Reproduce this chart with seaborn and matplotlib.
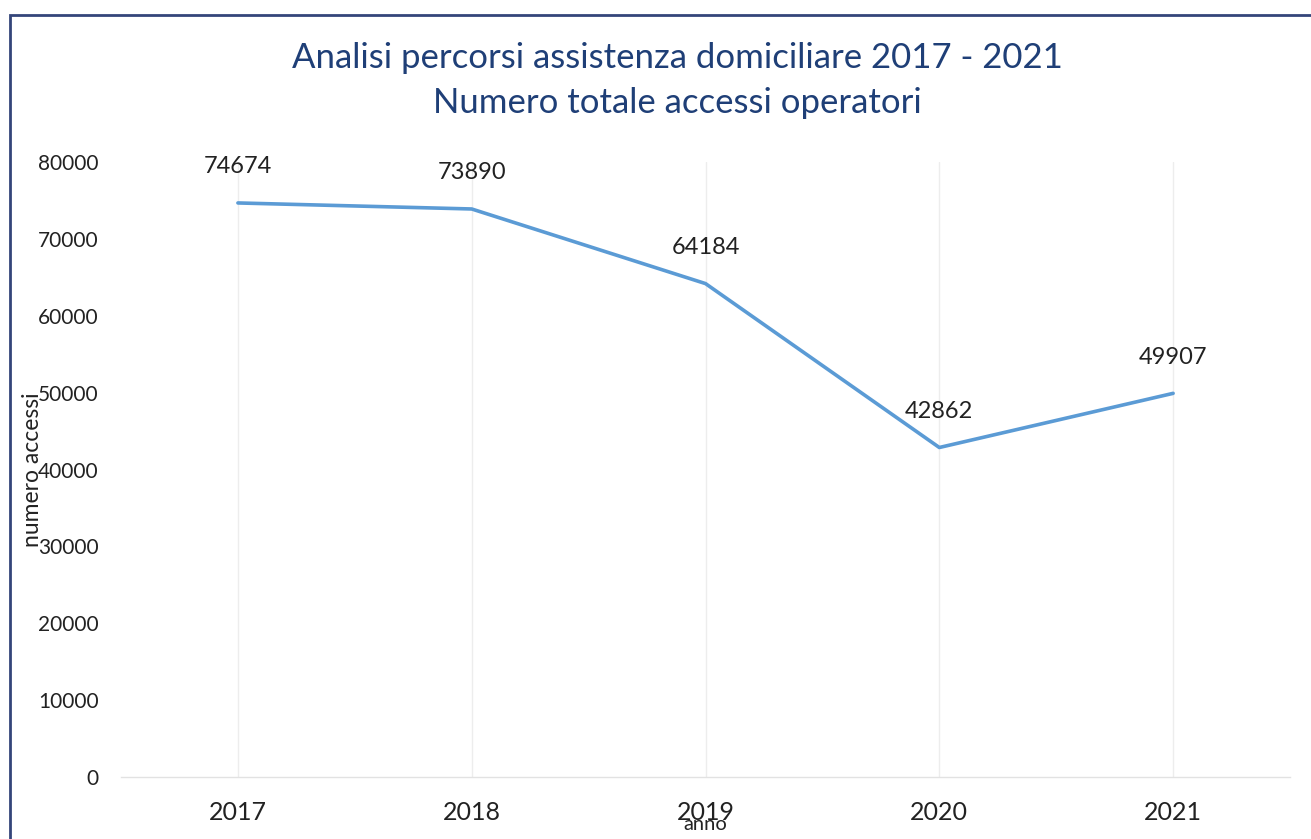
import matplotlib
matplotlib.use("Agg")
import matplotlib.pyplot as plt
import seaborn as sns
import pandas as pd
from matplotlib.patches import Rectangle

# Chart data
years = ["2017", "2018", "2019", "2020", "2021"]
accessi = [74674, 73890, 64184, 42862, 49907]
y_ticks = [0, 10000, 20000, 30000, 40000, 50000, 60000, 70000, 80000]

title_lines = ["Analisi percorsi assistenza domiciliare 2017 - 2021",
               "Numero totale accessi operatori"]

sns.set_theme(style="white")
plt.rcParams["font.family"] = ["Lato", "DejaVu Sans"]

df = pd.DataFrame({"anno": years, "numero accessi": accessi})

fig = plt.figure(figsize=(13.11, 8.39), dpi=100)
fig.patch.set_facecolor("white")
ax = fig.add_axes([0.0923, 0.0739, 0.8917, 0.733])

# vertical category gridlines
for i in range(len(years)):
    ax.axvline(i, color="#ededed", lw=1, zorder=0)

sns.lineplot(data=df, x="anno", y="numero accessi", ax=ax,
             color="#5B9BD5", linewidth=2.6, sort=False)

for i, v in enumerate(accessi):
    ax.annotate(str(v), (i, v), xytext=(0, 26), textcoords="offset points",
                ha="center", va="center", fontsize=17, color="#222222")

ax.set_xlim(-0.5, len(years) - 0.5)
ax.set_ylim(0, 80000)
ax.set_yticks(y_ticks)
ax.set_yticklabels([str(t) for t in y_ticks])

for s in ["top", "right", "left"]:
    ax.spines[s].set_visible(False)
ax.spines["bottom"].set_color("#e2e2e2")
ax.spines["bottom"].set_linewidth(1)

ax.tick_params(axis="y", length=0, pad=16, labelsize=15, labelcolor="#222222")
ax.tick_params(axis="x", length=0, pad=17, labelsize=18, labelcolor="#222222")

ax.set_xlabel("anno", fontsize=14.5, color="#222222")
ax.set_ylabel("numero accessi", fontsize=16.5, color="#222222")
ax.xaxis.set_label_coords(0.5, -0.064)
ax.yaxis.set_label_coords(-0.067, 0.5)

fig.text(0.517, 0.931, title_lines[0], ha="center", va="center",
         fontsize=25, color="#1F3F77")
fig.text(0.517, 0.877, title_lines[1], ha="center", va="center",
         fontsize=25, color="#1F3F77")

# chart frame
fig.patches.append(Rectangle((10 / 1311, -0.05), 1.2, 1 - 15 / 839 + 0.05,
                             transform=fig.transFigure, fill=False,
                             edgecolor="#34457a", linewidth=2))

fig.savefig("out.png", dpi=100, facecolor="white")
